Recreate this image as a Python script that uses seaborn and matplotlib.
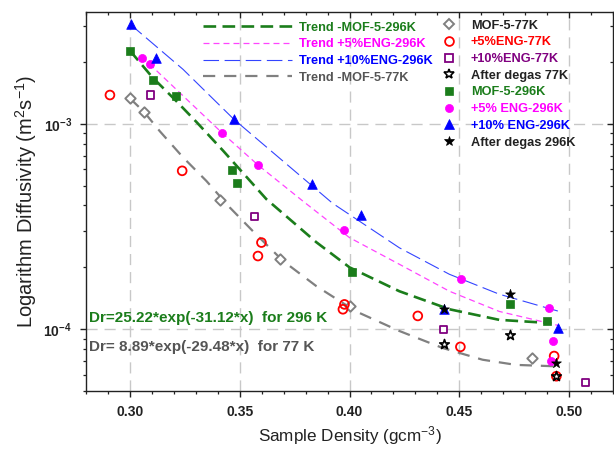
import matplotlib
matplotlib.use("Agg")
import matplotlib.pyplot as plt
import seaborn as sns
import pandas as pd
from matplotlib.lines import Line2D
from matplotlib.ticker import FixedLocator, FixedFormatter, MultipleLocator, LogLocator, NullFormatter

# ---------------- data ----------------
mof5_77_x = [0.300, 0.3065, 0.3409, 0.3682, 0.400, 0.4829]
mof5_77_y = [1.33e-3, 1.14e-3, 4.25e-4, 2.19e-4, 1.30e-4, 7.24e-5]

eng5_77_x = [0.2909, 0.3238, 0.3599, 0.3583, 0.3977, 0.3970, 0.4311, 0.4505, 0.4932, 0.4942]
eng5_77_y = [1.38e-3, 5.9e-4, 2.64e-4, 2.27e-4, 1.32e-4, 1.25e-4, 1.16e-4, 8.2e-5, 7.4e-5, 5.9e-5]

eng10_77_x = [0.3095, 0.3568, 0.4429, 0.5076]
eng10_77_y = [1.38e-3, 3.52e-4, 1.0e-4, 5.5e-5]

degas77_x = [0.4429, 0.4732, 0.4942]
degas77_y = [8.5e-5, 9.4e-5, 5.9e-5]

mof5_296_x = [0.300, 0.3103, 0.3208, 0.3467, 0.3488, 0.4011, 0.4732, 0.4901]
mof5_296_y = [2.27e-3, 1.63e-3, 1.36e-3, 5.94e-4, 5.12e-4, 1.9e-4, 1.32e-4, 1.09e-4]

eng5_296_x = [0.3053, 0.309, 0.3421, 0.3583, 0.3977, 0.4508, 0.4909, 0.4929, 0.4917]
eng5_296_y = [2.1e-3, 1.95e-3, 9.0e-4, 6.3e-4, 3.04e-4, 1.75e-4, 1.27e-4, 8.8e-5, 6.98e-5]

eng10_296_x = [0.3003, 0.312, 0.3474, 0.3829, 0.4053, 0.4432, 0.4951]
eng10_296_y = [3.06e-3, 2.1e-3, 1.05e-3, 5.08e-4, 3.59e-4, 1.26e-4, 1.01e-4]

degas296_x = [0.4432, 0.4732, 0.4942]
degas296_y = [1.26e-4, 1.49e-4, 6.86e-5]

# trend curves
trend_mof5_296_x = [0.300, 0.3103, 0.3208, 0.3303, 0.3424, 0.3621, 0.3849, 0.400, 0.4227, 0.4455, 0.4682, 0.4920]
trend_mof5_296_y = [2.27e-3, 1.68e-3, 1.30e-3, 1.02e-3, 7.4e-4, 4.3e-4, 2.65e-4, 2.0e-4, 1.53e-4, 1.25e-4, 1.11e-4, 1.07e-4]

trend_eng5_296_x = [0.3053, 0.309, 0.3421, 0.3583, 0.3788, 0.400, 0.4227, 0.4455, 0.4682, 0.4955]
trend_eng5_296_y = [2.1e-3, 1.95e-3, 9.0e-4, 6.3e-4, 4.2e-4, 2.79e-4, 2.07e-4, 1.53e-4, 1.22e-4, 1.04e-4]

trend_eng10_296_x = [0.300, 0.3242, 0.3474, 0.3923, 0.4227, 0.4455, 0.4682, 0.4955]
trend_eng10_296_y = [3.06e-3, 1.84e-3, 1.05e-3, 4.1e-4, 2.49e-4, 1.85e-4, 1.48e-4, 1.22e-4]

trend_mof5_77_x = [0.300, 0.3065, 0.3136, 0.3242, 0.3348, 0.3455, 0.356, 0.3697, 0.3849, 0.403, 0.4227, 0.4424, 0.4606, 0.4758, 0.4930]
trend_mof5_77_y = [1.33e-3, 1.14e-3, 9.2e-4, 6.86e-4, 5.27e-4, 3.91e-4, 3.0e-4, 2.15e-4, 1.62e-4, 1.22e-4, 9.8e-5, 8.1e-5, 7.1e-5, 6.7e-5, 6.6e-5]

x_ticks = [0.30, 0.35, 0.40, 0.45, 0.50]
x_tick_labels = ["0.30", "0.35", "0.40", "0.45", "0.50"]
y_ticks = [1e-4, 1e-3]
y_tick_labels = [r"$\mathbf{10^{-4}}$", r"$\mathbf{10^{-3}}$"]

trend_labels = ["Trend -MOF-5-296K", "Trend +5%ENG-296K", "Trend +10%ENG-296K", "Trend -MOF-5-77K"]
point_labels = ["MOF-5-77K", "+5%ENG-77K", "+10%ENG-77K", "After degas 77K",
                "MOF-5-296K", "+5% ENG-296K", "+10% ENG-296K", "After degas 296K"]
eq_296 = "Dr=25.22*exp(-31.12*x)  for 296 K"
eq_77 = "Dr= 8.89*exp(-29.48*x)  for 77 K"

# ---------------- styling ----------------
sns.set_theme(style="ticks")
plt.rcParams["font.family"] = ["Liberation Sans", "DejaVu Sans"]
plt.rcParams["mathtext.fontset"] = "custom"
plt.rcParams["mathtext.rm"] = "Liberation Sans"
plt.rcParams["mathtext.bf"] = "Liberation Sans:bold"
plt.rcParams["mathtext.it"] = "Liberation Sans:italic"

GREEN = "#1b7d1b"
MAG = "#ff00ff"
BLUE = "#0000ff"
GRAY = "#808080"
RED = "#ff0000"
PURPLE = "#800080"

fig = plt.figure(figsize=(6.14, 4.51), dpi=100)
ax = fig.add_axes([86 / 614, 1 - 391 / 451, 527 / 614, 379 / 451])
ax.set_yscale("log")
ax.set_xlim(0.28, 0.52)
ax.set_ylim(5e-5, 3.5e-3)

# grid
for xv in x_ticks:
    ax.axvline(xv, color="#c8c8c8", lw=1.0, ls=(0, (8, 5)), zorder=0)
for yv in y_ticks:
    ax.axhline(yv, color="#c8c8c8", lw=1.0, ls=(0, (8, 5)), zorder=0)

# trend lines
trend_styles = [
    (trend_mof5_296_x, trend_mof5_296_y, GREEN, 1.9, (0, (4.8, 2.4))),
    (trend_eng5_296_x, trend_eng5_296_y, "#ff44ff", 0.9, (0, (4.8, 3.2))),
    (trend_eng10_296_x, trend_eng10_296_y, "#3344ff", 0.8, (0, (14, 5))),
    (trend_mof5_77_x, trend_mof5_77_y, GRAY, 1.6, (0, (5.5, 4.0))),
]
for tx, ty, c, lw, ls in trend_styles:
    sns.lineplot(x=tx, y=ty, ax=ax, color=c, lw=lw, linestyle=ls, sort=False,
                 estimator=None, zorder=2)

# points
point_styles = [
    (mof5_77_x, mof5_77_y, "D", 28, "white", GRAY, 1.4),
    (eng5_77_x, eng5_77_y, "o", 40, "none", RED, 1.3),
    (eng10_77_x, eng10_77_y, "s", 26, "none", PURPLE, 1.3),
    (mof5_296_x, mof5_296_y, "s", 28, GREEN, GREEN, 0.5),
    (eng5_296_x, eng5_296_y, "o", 34, MAG, MAG, 0.5),
    (eng10_296_x, eng10_296_y, "^", 48, BLUE, BLUE, 0.5),
    (degas77_x, degas77_y, "*", 52, "white", "black", 1.2),
    (degas296_x, degas296_y, "*", 55, "black", "black", 0.5),
]
for px, py, m, s, fc, ec, elw in point_styles:
    sns.scatterplot(x=px, y=py, ax=ax, marker=m, s=s, facecolor=fc, edgecolor=ec,
                    linewidth=elw, zorder=3)

# ticks
ax.xaxis.set_major_locator(FixedLocator(x_ticks))
ax.xaxis.set_major_formatter(FixedFormatter(x_tick_labels))
ax.xaxis.set_minor_locator(MultipleLocator(0.01))
ax.yaxis.set_major_locator(FixedLocator(y_ticks))
ax.yaxis.set_major_formatter(FixedFormatter(y_tick_labels))
ax.yaxis.set_minor_locator(LogLocator(base=10, subs=range(2, 10), numticks=20))
ax.yaxis.set_minor_formatter(NullFormatter())
ax.tick_params(axis="both", which="major", direction="out", length=4, width=1,
               labelsize=10, colors="#222222", pad=6)
ax.tick_params(axis="both", which="minor", direction="out", length=2.5, width=0.9,
               colors="#222222")
ax.tick_params(axis="both", which="both", top=True, right=True)
for lbl in ax.get_xticklabels():
    lbl.set_fontweight("bold")
for t in ax.xaxis.get_major_ticks() + ax.xaxis.get_minor_ticks():
    t.tick2line.set_marker(3)  # inward at top
for t in ax.yaxis.get_major_ticks() + ax.yaxis.get_minor_ticks():
    t.tick2line.set_marker(0)  # inward at right

for sp in ax.spines.values():
    sp.set_color("#222222")
    sp.set_linewidth(1.0)

ax.set_xlabel(r"Sample Density (gcm$^{-3}$)", fontsize=12.3, color="#222222", labelpad=4)
ax.set_ylabel(r"Logarithm Diffusivity (m$^{2}$s$^{-1}$)", fontsize=14.5, color="#222222", labelpad=3)

# equations
ax.text(0.006, 0.193, eq_296, transform=ax.transAxes, color=GREEN, fontsize=11,
        fontweight="bold", va="center", ha="left")
ax.text(0.006, 0.116, eq_77, transform=ax.transAxes, color="#555555", fontsize=11,
        fontweight="bold", va="center", ha="left")

# legend 1: trends
h1 = [Line2D([], [], color=c, lw=lw, linestyle=ls) for _, _, c, lw, ls in trend_styles]
leg1 = ax.legend(h1, trend_labels, loc="upper left", bbox_to_anchor=(0.222, 0.974),
                 frameon=False, handlelength=7.0, handletextpad=0.55, labelspacing=0.36,
                 borderpad=0, borderaxespad=0,
                 prop={"weight": "bold", "size": 9.2},
                 labelcolor=[GREEN, MAG, BLUE, "#555555"])
ax.add_artist(leg1)

# legend 2: points
order = [0, 1, 2, 6, 3, 4, 5, 7]
h2 = []
for i in order:
    _, _, m, s, fc, ec, elw = point_styles[i]
    h2.append(Line2D([], [], ls="none", marker=m, markersize=s ** 0.5,
                     markerfacecolor=fc, markeredgecolor=ec, markeredgewidth=elw))
leg2 = ax.legend(h2, point_labels, loc="upper left", bbox_to_anchor=(0.677, 0.98),
                 frameon=False, handlelength=0.9, handletextpad=1.3, labelspacing=0.37,
                 borderpad=0, borderaxespad=0,
                 prop={"weight": "bold", "size": 9.2},
                 labelcolor=["#222222", RED, PURPLE, "#222222", GREEN, MAG, BLUE, "#222222"])

fig.savefig("out.png", dpi=100)
